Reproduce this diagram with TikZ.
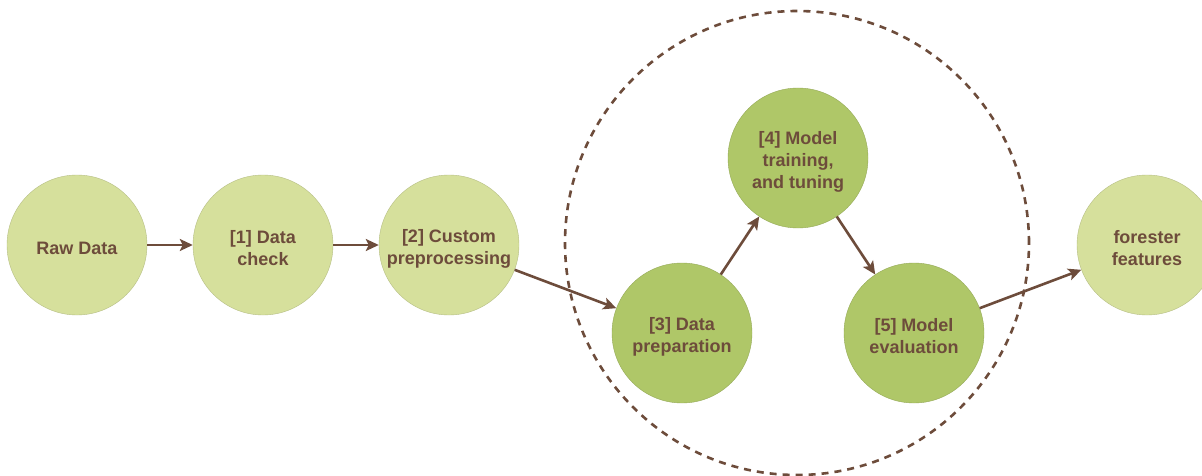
\documentclass[tikz,border=0pt]{standalone}
\usepackage{fontspec}
\setmainfont{Liberation Sans}
\usetikzlibrary{arrows.meta}
\definecolor{lightg}{HTML}{D6E09C}
\definecolor{darkg}{HTML}{AFC768}
\definecolor{brown}{HTML}{6D4C3B}
\tikzset{
  stage/.style={circle, minimum size=140pt, inner sep=0pt, fill=lightg, draw=lightg!85!black, line width=0.4pt},
  core/.style={stage, fill=darkg, draw=darkg!85!black},
  lbl/.style={text=brown, font=\fontsize{18pt}{22pt}\selectfont\bfseries, align=center, yshift=-3.5pt, inner sep=0pt},
  flow/.style={draw=brown, line width=2.6pt, -{Stealth[length=13pt,width=12pt,inset=3pt]}},
  group/.style={draw=brown, line width=2.6pt, dash pattern=on 7pt off 6pt}
}
\begin{document}
\begin{tikzpicture}[x=1pt,y=-1pt]
\useasboundingbox (0,0) rectangle (1202,476);
\node[group, circle, minimum size=464pt, inner sep=0pt] (grp) at (797,243) {};
\node[stage, label={[lbl]center:Raw Data}] (raw) at (77,245) {};
\node[stage, label={[lbl]center:{[1] Data\\check}}] (s1) at (263,245) {};
\node[stage, label={[lbl]center:{[2] Custom\\preprocessing}}] (s2) at (449,245) {};
\node[core, label={[lbl]center:{[3] Data\\preparation}}] (s3) at (682,333) {};
\node[core, label={[lbl]center:{[4] Model\\training,\\and tuning}}] (s4) at (798,158) {};
\node[core, label={[lbl]center:{[5] Model\\evaluation}}] (s5) at (914,333) {};
\node[stage, label={[lbl]center:{forester\\features}}] (ff) at (1147,245) {};
\draw[flow] (raw) -- (s1);
\draw[flow] (s1) -- (s2);
\draw[flow] (s2) -- (s3);
\draw[flow] (s3) -- (s4);
\draw[flow] (s4) -- (s5);
\draw[flow] (s5) -- (ff);
\end{tikzpicture}
\end{document}
